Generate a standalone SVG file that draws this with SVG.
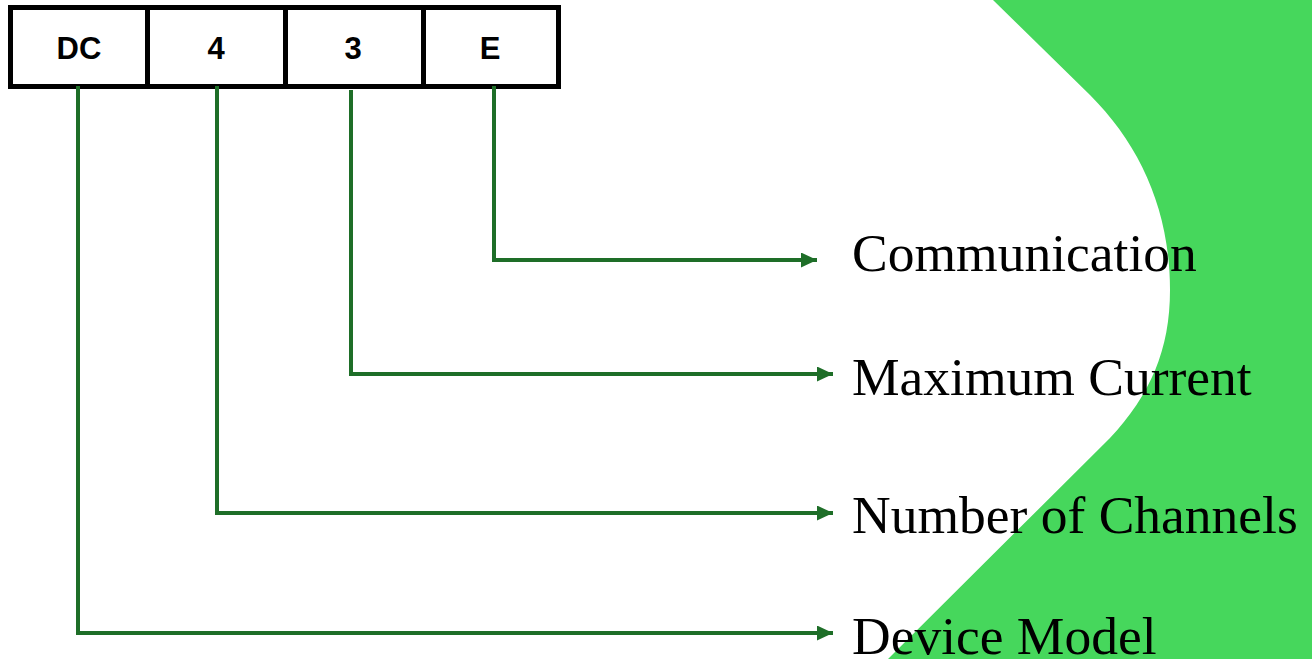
<svg xmlns="http://www.w3.org/2000/svg" width="1312" height="659" viewBox="0 0 1312 659">
<style>
.cell{fill:#fff;stroke:#000;stroke-width:5}
.code{font-family:"Liberation Sans",Arial,sans-serif;font-weight:700;font-size:31px;fill:#000;text-anchor:middle}
.lbl{font-family:"Liberation Serif","Times New Roman",serif;font-size:53.5px;fill:#000}
.conn{fill:none;stroke:#1e6e28;stroke-width:4}
</style>
<defs>
<marker id="arr" markerWidth="16" markerHeight="15" refX="16" refY="7.5" orient="auto" markerUnits="userSpaceOnUse">
<path d="M0,0 L16,7.5 L0,15 Z" fill="#1e6e28"/>
</marker>
</defs>
<rect width="1312" height="659" fill="#fff"/>
<path id="bg-shape" d="M993,0 L1090,95 C1140,145 1170,210 1170,290 C1170,350 1150,395 1110,438 L888,659 L1312,659 L1312,0 Z" fill="#46d75c"/>
<g id="code-box">
<g id="cell-dc"><rect class="cell" x="10.5" y="7.5" width="137" height="79"/><text class="code" x="79" y="59">DC</text></g>
<g id="cell-4"><rect class="cell" x="147.5" y="7.5" width="138" height="79"/><text class="code" x="216" y="59">4</text></g>
<g id="cell-3"><rect class="cell" x="285.5" y="7.5" width="138" height="79"/><text class="code" x="353" y="59">3</text></g>
<g id="cell-e"><rect class="cell" x="423.5" y="7.5" width="135" height="79"/><text class="code" x="490" y="59">E</text></g>
</g>
<g id="connectors">
<path class="conn" d="M494,86 V260 H817" marker-end="url(#arr)"/>
<path class="conn" d="M351,90 V374 H833" marker-end="url(#arr)"/>
<path class="conn" d="M217,86 V513 H833" marker-end="url(#arr)"/>
<path class="conn" d="M78,86 V633 H833" marker-end="url(#arr)"/>
</g>
<g id="label-communication"><text class="lbl" x="852" y="271">Communication</text></g>
<g id="label-current"><text class="lbl" x="852" y="395">Maximum Current</text></g>
<g id="label-channels"><text class="lbl" x="852" y="533">Number of Channels</text></g>
<g id="label-model"><text class="lbl" x="852" y="654">Device Model</text></g>
</svg>
